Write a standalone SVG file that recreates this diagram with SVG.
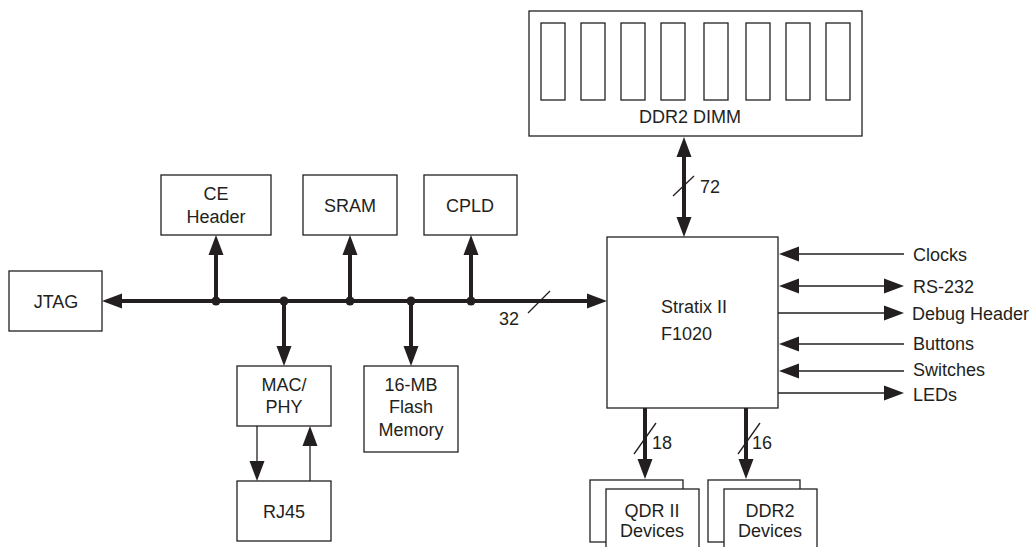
<svg xmlns="http://www.w3.org/2000/svg" width="1034" height="547" viewBox="0 0 1034 547">
<defs>
<style>
.box{fill:#fff;stroke:#231f20;stroke-width:1.3}
.t{font-family:"Liberation Sans",Arial,sans-serif;font-size:18px;fill:#231f20;text-anchor:middle}
.l{text-anchor:start}
.thick{stroke:#231f20;stroke-width:4;fill:none}
.thin{stroke:#231f20;stroke-width:1.3;fill:none}
.ah{marker-end:url(#arr)}
.as{marker-start:url(#arr)}
.dot{fill:#231f20}
</style>
<marker id="arr" markerUnits="userSpaceOnUse" markerWidth="20" markerHeight="16" refX="10" refY="7.5" orient="auto-start-reverse" viewBox="0 0 20 15">
<path d="M0,0 L20,7.5 L0,15 Z" fill="#231f20"/>
</marker>
</defs>
<rect width="1034" height="547" fill="#fff"/>

<g id="ddr2-dimm">
<rect class="box" x="529" y="11" width="333" height="125"/>
<rect class="box" x="541" y="23" width="24" height="77"/>
<rect class="box" x="581" y="23" width="24" height="77"/>
<rect class="box" x="621" y="23" width="24" height="77"/>
<rect class="box" x="661" y="23" width="24" height="77"/>
<rect class="box" x="704" y="23" width="24" height="77"/>
<rect class="box" x="746" y="23" width="24" height="77"/>
<rect class="box" x="786" y="23" width="24" height="77"/>
<rect class="box" x="826" y="23" width="24" height="77"/>
<text class="t" x="690" y="123">DDR2 DIMM</text>
</g>

<g id="stratix">
<rect class="box" x="607" y="237" width="171" height="171"/>
<text class="t l" x="661" y="313">Stratix II</text>
<text class="t l" x="661" y="340">F1020</text>
</g>

<g id="jtag">
<rect class="box" x="9" y="271" width="93" height="60"/>
<text class="t" x="56" y="308">JTAG</text>
</g>

<g id="ce-header">
<rect class="box" x="161" y="175" width="110" height="60"/>
<text class="t" x="216" y="200">CE</text>
<text class="t" x="216" y="223">Header</text>
</g>

<g id="sram">
<rect class="box" x="303" y="175" width="94" height="60"/>
<text class="t" x="350" y="212">SRAM</text>
</g>

<g id="cpld">
<rect class="box" x="424" y="175" width="93" height="60"/>
<text class="t" x="470" y="212">CPLD</text>
</g>

<g id="mac-phy">
<rect class="box" x="237" y="366" width="94" height="60"/>
<text class="t" x="284" y="391">MAC/</text>
<text class="t" x="284" y="413">PHY</text>
</g>

<g id="flash">
<rect class="box" x="364" y="366" width="94" height="86"/>
<text class="t" x="411" y="391">16-MB</text>
<text class="t" x="411" y="413">Flash</text>
<text class="t" x="411" y="436">Memory</text>
</g>

<g id="rj45">
<rect class="box" x="237" y="481" width="94" height="60"/>
<text class="t" x="284" y="518">RJ45</text>
</g>

<g id="qdr">
<rect class="box" x="590" y="480" width="93" height="62"/>
<rect class="box" x="606" y="489" width="93" height="70"/>
<text class="t" x="652" y="517">QDR II</text>
<text class="t" x="652" y="537">Devices</text>
</g>

<g id="ddr2-devices">
<rect class="box" x="708" y="480" width="92" height="62"/>
<rect class="box" x="724" y="489" width="93" height="70"/>
<text class="t" x="770" y="517">DDR2</text>
<text class="t" x="770" y="537">Devices</text>
</g>

<g id="signals">
<text class="t l" x="913" y="261">Clocks</text>
<text class="t l" x="913" y="293">RS-232</text>
<text class="t l" x="912" y="320">Debug Header</text>
<text class="t l" x="913" y="350">Buttons</text>
<text class="t l" x="913" y="376">Switches</text>
<text class="t l" x="913" y="401">LEDs</text>
</g>

<g id="connectors">
<line class="thick ah as" x1="112" y1="301" x2="597" y2="301"/>
<line class="thick ah" x1="216" y1="301" x2="216" y2="245"/>
<line class="thick ah" x1="350" y1="301" x2="350" y2="245"/>
<line class="thick ah" x1="471" y1="301" x2="471" y2="245"/>
<line class="thick ah" x1="284" y1="301" x2="284" y2="356"/>
<line class="thick ah" x1="411" y1="301" x2="411" y2="356"/>
<circle class="dot" cx="216" cy="301" r="4.5"/>
<circle class="dot" cx="284" cy="301" r="4.5"/>
<circle class="dot" cx="350" cy="301" r="4.5"/>
<circle class="dot" cx="411" cy="301" r="4.5"/>
<circle class="dot" cx="471" cy="301" r="4.5"/>
<line class="thin" x1="528" y1="313" x2="550" y2="291"/>
<text class="t l" x="499" y="325">32</text>

<line class="thick ah as" x1="684" y1="147" x2="684" y2="227"/>
<line class="thin" x1="673" y1="196" x2="694" y2="176"/>
<text class="t l" x="700" y="193">72</text>

<line class="thick ah" x1="645" y1="408" x2="645" y2="469"/>
<line class="thin" x1="634" y1="454" x2="656" y2="423"/>
<text class="t l" x="652" y="449">18</text>
<line class="thick ah" x1="746" y1="408" x2="746" y2="469"/>
<line class="thin" x1="738" y1="454" x2="760" y2="423"/>
<text class="t l" x="752" y="449">16</text>

<line class="thin ah" x1="257" y1="426" x2="257" y2="471"/>
<line class="thin ah" x1="310" y1="481" x2="310" y2="436"/>

<line class="thin ah" x1="904" y1="254" x2="789" y2="254"/>
<line class="thin ah as" x1="789" y1="286" x2="894" y2="286"/>
<line class="thin ah" x1="778" y1="313" x2="894" y2="313"/>
<line class="thin ah" x1="904" y1="344" x2="789" y2="344"/>
<line class="thin ah" x1="904" y1="371" x2="789" y2="371"/>
<line class="thin ah" x1="778" y1="393" x2="894" y2="393"/>
</g>
</svg>
